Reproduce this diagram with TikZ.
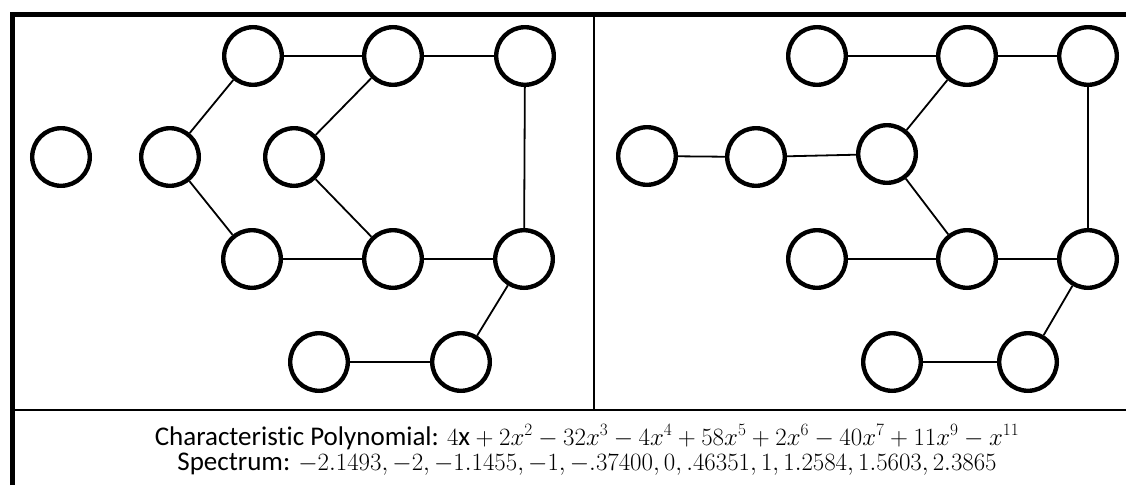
\documentclass[tikz,border=0pt]{standalone}
\usepackage{fontspec}
\setmainfont{Carlito}[Ligatures=NoCommon]
\begin{document}
\begin{tikzpicture}[x=1pt,y=-1pt,
  vtx/.style={circle,draw,line width=4.4pt,minimum size=57.6pt,inner sep=0pt},
  edge/.style={line width=1.8pt},
  thick frame/.style={line width=4.2pt},
  thin frame/.style={line width=2.2pt},
  caption/.style={anchor=base,inner sep=0pt,font=\fontsize{27}{30}\selectfont}]
\useasboundingbox (0,0) rectangle (1126,485);
% frame
\draw[thick frame] (12.5,485) -- (12.5,14.5) -- (1126,14.5);
\draw[thin frame] (12.5,410) -- (1126,410);
\draw[thin frame] (594,14.5) -- (594,410);
% left graph
\node[vtx] (iso) at (61,157) {};
\node[vtx] (a) at (170,157) {};
\node[vtx] (b) at (253,56) {};
\node[vtx] (c) at (393,56) {};
\node[vtx] (d) at (525,56) {};
\node[vtx] (e) at (294,157) {};
\node[vtx] (f) at (252,259) {};
\node[vtx] (g) at (393,259) {};
\node[vtx] (h) at (524,259) {};
\node[vtx] (i) at (319,362) {};
\node[vtx] (j) at (461,362) {};
\draw[edge] (a) -- (b);
\draw[edge] (a) -- (f);
\draw[edge] (b) -- (c);
\draw[edge] (c) -- (d);
\draw[edge] (c) -- (e);
\draw[edge] (e) -- (g);
\draw[edge] (f) -- (g);
\draw[edge] (g) -- (h);
\draw[edge] (d) -- (h);
\draw[edge] (h) -- (j);
\draw[edge] (i) -- (j);
% right graph
\node[vtx] (k) at (647,156) {};
\node[vtx] (l) at (756,157) {};
\node[vtx] (m) at (887,154) {};
\node[vtx] (n) at (817,56) {};
\node[vtx] (o) at (967,56) {};
\node[vtx] (p) at (1088,56) {};
\node[vtx] (q) at (817,259) {};
\node[vtx] (r) at (967,259) {};
\node[vtx] (s) at (1088,259) {};
\node[vtx] (t) at (892,362) {};
\node[vtx] (u) at (1028,362) {};
\draw[edge] (k) -- (l);
\draw[edge] (l) -- (m);
\draw[edge] (m) -- (o);
\draw[edge] (n) -- (o);
\draw[edge] (o) -- (p);
\draw[edge] (p) -- (s);
\draw[edge] (m) -- (r);
\draw[edge] (q) -- (r);
\draw[edge] (r) -- (s);
\draw[edge] (s) -- (u);
\draw[edge] (t) -- (u);
% caption
\node[caption] (poly) at (587,445) {Characteristic Polynomial: $4\mathrm{x}+2x^2-32x^3-4x^4+58x^5+2x^6-40x^7+11x^9-x^{11}$};
\node[caption] (spec) at (587,470) {Spectrum: $-2.1493,-2,-1.1455,-1,-.37400,0,.46351,1,1.2584,1.5603,2.3865$};
\end{tikzpicture}
\end{document}
